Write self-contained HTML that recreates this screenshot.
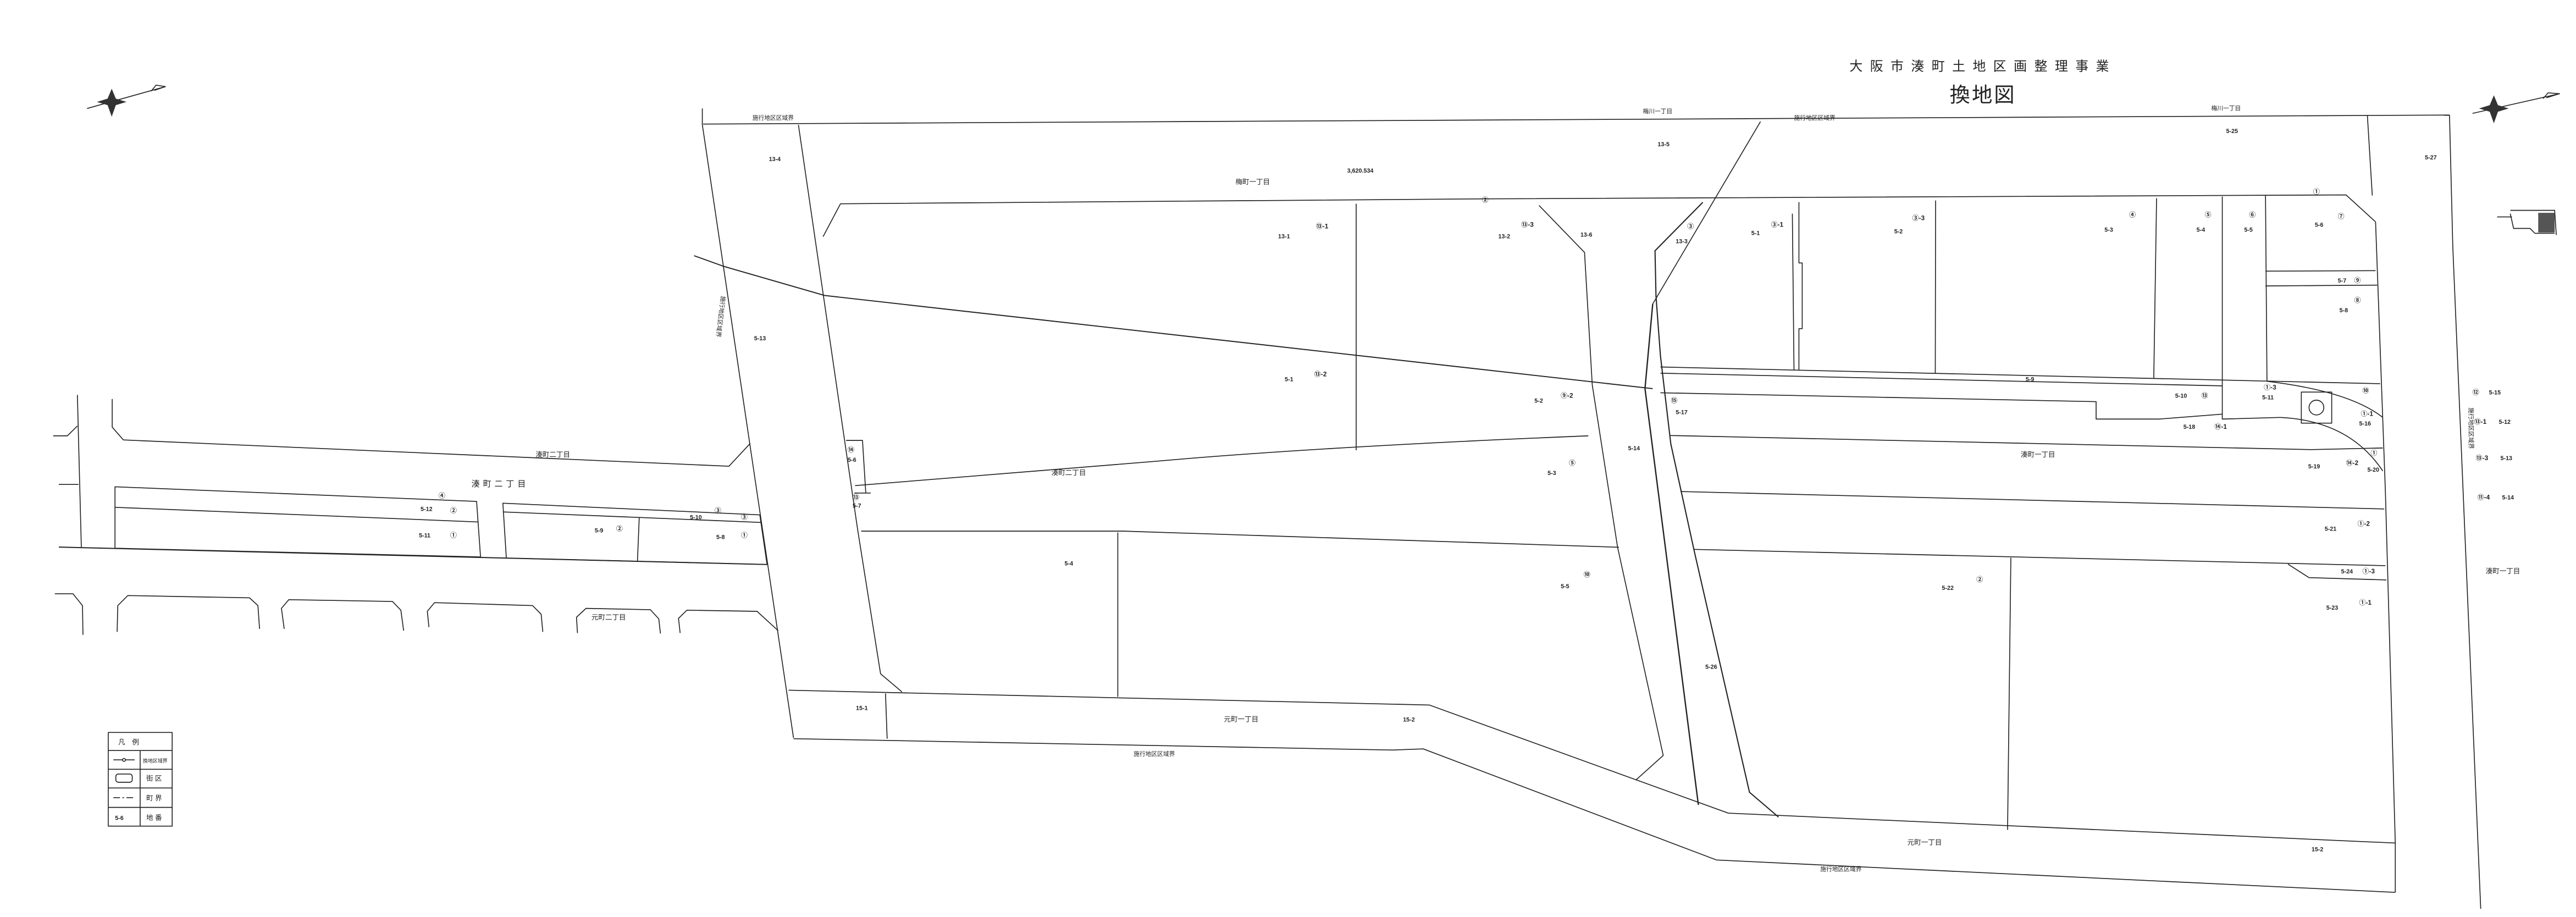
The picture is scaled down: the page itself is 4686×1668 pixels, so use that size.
<!DOCTYPE html>
<html><head><meta charset="utf-8"><style>
html,body{margin:0;padding:0;background:#fff;}
svg{display:block;}
text{font-family:"Liberation Sans","Noto Sans CJK JP",sans-serif;fill:#222;}
.n{font-size:3.6px;font-weight:bold;}
.s{font-size:4.2px;}
.c{font-size:4px;font-weight:bold;fill:#111;}
</style></head><body>
<svg width="4686" height="1668" viewBox="0 0 1568 558" preserveAspectRatio="none" xmlns="http://www.w3.org/2000/svg">
<rect width="1568" height="558" fill="#fff"/>
<g fill="none" stroke="#222" stroke-width="0.55" stroke-linejoin="round">
<polyline points="428,75.5 1491,70"/>
<polyline points="427.5,66 427.5,75.8 483,449"/>
<polyline points="486,76 522,322 536,410 549,421"/>
<polyline points="511.6,124 501,144"/>
<polyline points="511.6,124 905,121 1428,118.6 1446,135"/>
<polyline points="1441,70 1444,119"/>
<polyline points="1446,135 1452,300 1458,513 1458,543"/>
<polyline points="1491,70 1493,150 1510,553"/>
<polyline points="422.5,155.6 440.3,162 501.9,179.8 1006,236.5" stroke-width="0.65"/>
<polyline points="1071.6,74 1006,185" />
<polyline points="936.8,125 964.5,153.6 965.2,165.6 969.2,234.2 984.6,332.9 1012.4,459.7 995.7,474.7"/>
<polyline points="1036.5,123.1 1007.4,152.6 1008,180.3 1010.7,216.5 1017,270 1031.4,335.9 1064.9,482.1 1082.6,497.2" stroke-width="0.7"/>
<polyline points="1006,185 1001.3,236.5 1033.8,489.8" stroke-width="0.8"/>
<polyline points="680.4,324 680.4,424"/>
<polyline points="825.5,124 825.5,274"/>
<path d="M520.5,295.5 L700,281 Q800,272 966.8,265.2"/>
<polyline points="524.2,323.2 684,323.2 985.4,333"/>
<polyline points="515,268 525,268 527,300"/>
<polyline points="520,300 530,300"/>
<polyline points="480,420 870,429 1052,494.8 1458,513"/>
<polyline points="483,449.5 847.7,456.4 866.3,455.7 1044.8,523.3 1458,543"/>
<polyline points="539,422 540,449.5"/>
<polyline points="1095,123 1095,160 1097,160 1097,200 1095,200 1095,225"/>
<polyline points="1178.2,122 1178,227"/>
<polyline points="1312.7,120.6 1311,230"/>
<polyline points="1352.7,119.6 1352.7,232"/>
<polyline points="1379,119 1379.9,232"/>
<polyline points="1379,165 1446,164.7"/>
<polyline points="1379,174 1447,173.5"/>
<polyline points="1010.7,223.3 1448.8,233.5"/>
<polyline points="1010.7,227.1 1352.7,234.8"/>
<polyline points="1010.7,239 1275.9,244.4 1275.9,255 1314.3,255 1352.7,252"/>
<polyline points="1352.7,232 1352.7,255 1388,254"/>
<path d="M1379.9,232 Q1430,238 1450.4,254"/>
<path d="M1388,254 Q1430,256 1450.4,286.6"/>
<rect x="1400.8" y="238.6" width="18.5" height="18.9"/>
<circle cx="1410" cy="248" r="4.5"/>
<polyline points="1016.5,265 1407,273.6 1450.4,272.6"/>
<polyline points="1022.9,299.1 1451.3,309.7"/>
<polyline points="1030.9,334.3 1452,344.2"/>
<polyline points="1392.7,343.3 1405.5,351.5 1452.6,352.9"/>
<polyline points="1224,339.4 1222,505"/>
<polyline points="1091,130 1092,225"/>
<polyline points="47.1,240.3 49.5,332.9"/>
<polyline points="32.4,265.2 41,265.2 47.1,259.2"/>
<polyline points="68.3,242.8 68.3,259.9 75.1,267.7 443.7,283.7 456.7,269.8"/>
<polyline points="35.8,294.8 47.8,294.8"/>
<polygon points="70,296.2 290.1,305.1 292.5,338.9 70,333.6"/>
<polyline points="70,308.7 290.8,317.6"/>
<polygon points="306.1,306.2 462.5,313.3 466.9,343.5 308.2,339.6"/>
<polyline points="306.1,311.5 463.2,317.9"/>
<polyline points="389.1,315 388,341.8"/>
<polyline points="35.8,332.9 466.9,343.5" stroke-width="0.65"/>
<polyline points="33.4,361.3 44.4,361.3 50.2,368.5 50.5,386.3"/>
<polyline points="71.3,384.5 71.7,368.5 77.8,362.4 151.9,363.8 157,368.5 158,382.7"/>
<polyline points="173,382.7 171.3,370.2 175.8,364.9 238.9,366 244,371.3 245.7,383.8"/>
<polyline points="261.1,381.6 260.1,372 264.5,366.7 324.2,368.5 329.4,373.8 330.4,384.5"/>
<polyline points="351.5,385.2 350.9,375.6 356.7,370.2 395.9,371 401,376.6 402,385.5"/>
<polyline points="414,385.2 413,376.3 418.1,371.3 460.8,372 473.7,383.8"/>
<rect x="65.9" y="445.7" width="38.9" height="57"/>
<line x1="65.9" y1="456.7" x2="104.8" y2="456.7"/>
<line x1="65.9" y1="468.1" x2="104.8" y2="468.1"/>
<line x1="65.9" y1="479.5" x2="104.8" y2="479.5"/>
<line x1="65.9" y1="491.3" x2="104.8" y2="491.3"/>
<line x1="85.3" y1="456.7" x2="85.3" y2="502.7"/>
<line x1="69" y1="462.4" x2="82" y2="462.4"/><circle cx="75.5" cy="462.4" r="0.9" fill="#fff"/>
<rect x="70.5" y="471" width="10" height="5" rx="1.5"/>
<line x1="69" y1="485.4" x2="82" y2="485.4" stroke-dasharray="4,1.5,1,1.5"/>
<line x1="53" y1="66" x2="100.7" y2="52.7"/>
<polyline points="92,55.5 95,51.8 100.7,52.7 94,55"/>
<line x1="1505" y1="69" x2="1558" y2="57"/>
<polyline points="1548,60 1551,56.5 1558,57 1550,59.5"/>
<polyline points="1528,128 1555,128 1556,143"/>
<polyline points="1528,130 1530,139 1540,139 1543,142 1555,142"/>
<polyline points="1520,132 1529,132 M1520,137 1529,137 M1521,131 1521,139"/>
</g>
<g fill="#333">
<path d="M68,54 L70.5,60 L77,62 L70.5,64 L68,71 L65.5,64 L59,62 L65.5,60Z"/>
<path d="M1518,58 L1520.5,64 L1527,66 L1520.5,68 L1518,75 L1515.5,68 L1509,66 L1515.5,64Z"/>
</g>
<rect x="1545" y="129.5" width="10" height="12" fill="#555"/>
<text x="1207" y="43" font-size="8" text-anchor="middle" letter-spacing="4.5">大阪市湊町土地区画整理事業</text>
<text x="1207" y="62" font-size="12.5" text-anchor="middle" letter-spacing="1">換地図</text>
<g class="n">
<text x="468" y="98">13-4</text><text x="1009" y="89">13-5</text><text x="1355" y="81">5-25</text><text x="1476" y="97">5-27</text>
<text x="820" y="105">3,620.534</text>
<text x="778" y="145">13-1</text><text x="912" y="145">13-2</text><text x="962" y="144">13-6</text><text x="1020" y="148">13-3</text>
<text x="1066" y="143">5-1</text><text x="1153" y="142">5-2</text><text x="1281" y="141">5-3</text><text x="1337" y="141">5-4</text><text x="1366" y="141">5-5</text><text x="1409" y="138">5-6</text>
<text x="1423" y="172">5-7</text><text x="1424" y="190">5-8</text>
<text x="459" y="207">5-13</text><text x="782" y="232">5-1</text><text x="934" y="245">5-2</text><text x="991" y="274">5-14</text>
<text x="1233" y="232">5-9</text><text x="1020" y="252">5-17</text><text x="1324" y="242">5-10</text><text x="1377" y="243">5-11</text>
<text x="1436" y="259">5-16</text><text x="1329" y="261">5-18</text><text x="1405" y="285">5-19</text><text x="1441" y="287">5-20</text>
<text x="942" y="289">5-3</text><text x="516" y="281">5-6</text><text x="519" y="309">5-7</text>
<text x="1415" y="323">5-21</text><text x="1425" y="349">5-24</text><text x="1416" y="371">5-23</text><text x="1182" y="359">5-22</text>
<text x="950" y="358">5-5</text><text x="648" y="344">5-4</text><text x="1038" y="407">5-26</text>
<text x="1515" y="240">5-15</text><text x="1521" y="258">5-12</text><text x="1522" y="280">5-13</text><text x="1523" y="304">5-14</text>
<text x="521" y="432">15-1</text><text x="854" y="439">15-2</text><text x="1407" y="518">15-2</text>
<text x="256" y="311">5-12</text><text x="255" y="327">5-11</text><text x="420" y="316">5-10</text><text x="362" y="324">5-9</text><text x="436" y="328">5-8</text>
<text x="70" y="499">5-6</text>
</g>
<g class="c">
<text x="902" y="123">②</text><text x="801" y="139">⑬-1</text><text x="926" y="138">⑬-3</text><text x="1027" y="139">③</text>
<text x="1078" y="138">③-1</text><text x="1164" y="134">③-3</text><text x="1296" y="132">④</text><text x="1342" y="132">⑤</text><text x="1369" y="132">⑥</text><text x="1423" y="133">⑦</text><text x="1408" y="118">①</text>
<text x="1433" y="172">⑨</text><text x="1433" y="184">⑧</text>
<text x="800" y="229">⑬-2</text><text x="950" y="242">⑨-2</text><text x="1017" y="245">⑮</text><text x="1340" y="242">⑬</text><text x="1378" y="237">①-3</text>
<text x="1438" y="239">⑩</text><text x="1437" y="253">①-1</text><text x="1348" y="261">⑭-1</text><text x="1428" y="283">⑭-2</text><text x="1443" y="277">①</text>
<text x="955" y="283">⑤</text><text x="516" y="275">⑭</text><text x="519" y="304">⑬</text>
<text x="1435" y="320">①-2</text><text x="1438" y="349">①-3</text><text x="1436" y="368">①-1</text><text x="1203" y="354">②</text><text x="964" y="351">⑩</text>
<text x="1505" y="240">⑫</text><text x="1506" y="258">⑬-1</text><text x="1507" y="280">⑬-3</text><text x="1508" y="304">⑪-4</text>
<text x="274" y="312">②</text><text x="274" y="327">①</text><text x="267" y="303">④</text><text x="435" y="312">③</text><text x="451" y="316">③</text><text x="375" y="323">②</text><text x="451" y="327">①</text>
</g>
<g class="s">
<text x="752" y="112">梅町一丁目</text>
<text x="640" y="289">湊町二丁目</text><text x="1230" y="278">湊町一丁目</text><text x="1513" y="349">湊町一丁目</text>
<text x="745" y="439">元町一丁目</text><text x="1161" y="514">元町一丁目</text>
<text x="326" y="278">湊町二丁目</text><text x="360" y="377">元町二丁目</text>
<text x="287" y="296" font-size="5" letter-spacing="2">湊町二丁目</text>
<text x="458" y="73" font-size="3.6">施行地区区域界</text><text x="1000" y="69" font-size="3.6">梅川一丁目</text><text x="1092" y="73" font-size="3.6">施行地区区域界</text><text x="1346" y="67" font-size="3.6">梅川一丁目</text>
<text x="690" y="460" font-size="3.6">施行地区区域界</text><text x="1108" y="530" font-size="3.6">施行地区区域界</text>
<text transform="translate(439,180) rotate(97)" font-size="3.6">施行地区区域界</text>
<text transform="translate(1503,248) rotate(90)" font-size="3.6">施行地区区域界</text>
<text x="72" y="453">凡　例</text><text x="87" y="464" font-size="3">換地区域界</text><text x="89" y="475">街 区</text><text x="89" y="487">町 界</text><text x="89" y="499">地 番</text>
</g>
</svg>
</body></html>
